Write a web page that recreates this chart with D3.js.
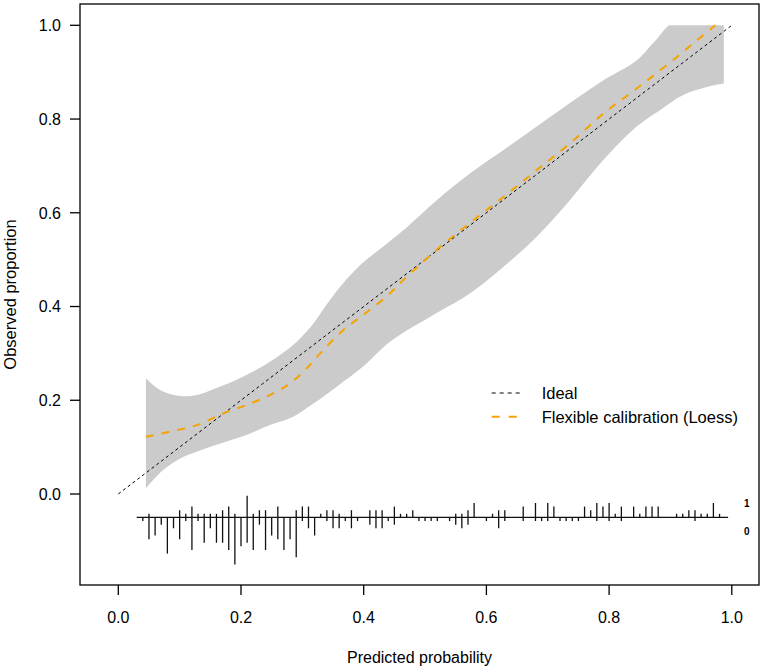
<!DOCTYPE html>
<meta charset="utf-8">
<script src="https://d3js.org/d3.v7.min.js"></script>
<style>
	body { margin: 0; background: #fff; }
	text { font-family: "Liberation Sans", Arial, Helvetica, sans-serif; fill: #000; }
</style>
<svg id="vis"></svg>
<script>
	// ticks
	const xTicks = [0, 0.2, 0.4, 0.6, 0.8, 1.0];
	const yTicks = [0, 0.2, 0.4, 0.6, 0.8, 1.0];

	// ideal diagonal
	const ideal = [[0, 0], [1, 1]];

	// confidence band
	const bandUpper = [
		[0.045, 0.247], [0.068, 0.222], [0.101, 0.209], [0.128, 0.211], [0.160, 0.226],
		[0.198, 0.247], [0.236, 0.273], [0.264, 0.297], [0.291, 0.325], [0.318, 0.364],
		[0.345, 0.414], [0.372, 0.458], [0.399, 0.494], [0.432, 0.528], [0.465, 0.563],
		[0.519, 0.627], [0.573, 0.684], [0.628, 0.734], [0.682, 0.784], [0.736, 0.834],
		[0.791, 0.883], [0.845, 0.925], [0.872, 0.962], [0.909, 1.01], [0.987, 1.01]
	];
	const bandLower = [
		[0.045, 0.012], [0.073, 0.051], [0.101, 0.076], [0.128, 0.090], [0.160, 0.105],
		[0.209, 0.126], [0.247, 0.147], [0.285, 0.165], [0.318, 0.193], [0.356, 0.229],
		[0.399, 0.272], [0.443, 0.325], [0.519, 0.386], [0.573, 0.428], [0.628, 0.485],
		[0.682, 0.549], [0.736, 0.627], [0.791, 0.713], [0.845, 0.784], [0.883, 0.819],
		[0.920, 0.851], [0.964, 0.870], [0.987, 0.876]
	];

	// loess curve
	const loess = [
		[0.045, 0.122], [0.084, 0.133], [0.128, 0.147], [0.171, 0.172], [0.209, 0.190],
		[0.247, 0.211], [0.280, 0.236], [0.307, 0.268], [0.334, 0.307], [0.367, 0.350],
		[0.399, 0.382], [0.437, 0.421], [0.465, 0.457], [0.519, 0.521], [0.573, 0.578],
		[0.628, 0.634], [0.682, 0.691], [0.736, 0.748], [0.791, 0.812], [0.845, 0.865],
		[0.910, 0.932], [0.945, 0.970], [0.973, 1.0]
	];

	// spike histogram: predicted prob bins, counts with outcome 1 (up) and 0 (down)
	const spikeP = [0.04, 0.05, 0.06, 0.07, 0.08, 0.09, 0.10, 0.11, 0.12, 0.13, 0.14, 0.15, 0.16, 0.17, 0.18, 0.19,
		0.20, 0.21, 0.22, 0.23, 0.24, 0.25, 0.26, 0.27, 0.28, 0.29, 0.30, 0.31, 0.32, 0.33, 0.34, 0.35, 0.36, 0.37,
		0.38, 0.39, 0.41, 0.42, 0.43, 0.44, 0.45, 0.46, 0.47, 0.48, 0.49, 0.50, 0.51, 0.52, 0.54, 0.55, 0.56, 0.57,
		0.58, 0.60, 0.61, 0.62, 0.63, 0.66, 0.68, 0.69, 0.70, 0.71, 0.72, 0.73, 0.74, 0.75, 0.76, 0.77, 0.78, 0.79,
		0.80, 0.81, 0.82, 0.84, 0.85, 0.86, 0.87, 0.88, 0.91, 0.92, 0.93, 0.94, 0.95, 0.96, 0.97, 0.98];
	const spikeOnes = [0, 1, 0, 0, 0, 0, 2, 1, 3, 1, 1, 1, 1, 2, 3, 1,
		0, 6, 1, 2, 2, 0, 3, 0, 0, 2, 3, 3, 0, 1, 2, 2, 1, 0,
		2, 0, 2, 2, 2, 0, 3, 1, 1, 2, 0, 0, 0, 0, 0, 1, 1, 2,
		4, 0, 1, 2, 2, 3, 4, 0, 4, 3, 0, 0, 0, 0, 3, 2, 4, 3,
		4, 1, 3, 3, 1, 3, 3, 3, 1, 1, 2, 2, 1, 1, 4, 1];
	const spikeZeros = [1, 6, 5, 2, 10, 3, 6, 1, 9, 1, 7, 3, 7, 7, 9, 13,
		8, 7, 9, 2, 9, 5, 6, 9, 6, 11, 1, 3, 5, 0, 1, 3, 3, 1,
		3, 1, 2, 3, 3, 1, 2, 0, 0, 0, 1, 1, 1, 1, 1, 2, 3, 2,
		0, 1, 0, 3, 1, 1, 1, 1, 1, 0, 1, 1, 1, 1, 0, 0, 1, 0,
		1, 0, 1, 0, 0, 0, 0, 0, 0, 0, 0, 1, 0, 0, 0, 0];
	const spikeBase = -0.05;
	const spikeRange = [0.03, 0.994];

	const legendLabels = ["Ideal", "Flexible calibration (Loess)"];

	const W = 765, H = 670;
	const box = { left: 80, right: 759, top: 4, bottom: 585 };

	const svg = d3.select('#vis').attr('width', W).attr('height', H);

	const x = d3.scaleLinear().domain([0, 1]).range([118.3, 731.8]);
	const y = d3.scaleLinear().domain([0, 1]).range([494, 25.3]);
	const spikeLen = d3.scaleLinear().domain([0, 13]).range([0, 47]);

	const line = d3.line().x(d => x(d[0])).y(d => y(d[1]));
	const curve = d3.line().x(d => x(d[0])).y(d => y(d[1])).curve(d3.curveCatmullRom);

	// band is cut off at an observed proportion of 1
	svg.append('clipPath').attr('id', 'clipTop')
		.append('rect')
		.attr('x', box.left).attr('y', y(1))
		.attr('width', box.right - box.left).attr('height', box.bottom - y(1));

	// band polygon: smooth upper edge, then smooth lower edge reversed
	const bandPath = curve(bandUpper) + 'L' + curve(bandLower.slice().reverse()).slice(1) + 'Z';
	svg.append('path')
		.attr('d', bandPath)
		.attr('clip-path', 'url(#clipTop)')
		.attr('fill', '#cbcbcb')
		.attr('stroke', 'none');

	// ideal line
	svg.append('path')
		.attr('d', line(ideal))
		.attr('fill', 'none')
		.attr('stroke', '#000')
		.attr('stroke-width', 1)
		.attr('stroke-dasharray', '3,3');

	// loess line
	svg.append('path')
		.attr('d', curve(loess))
		.attr('fill', 'none')
		.attr('stroke', '#f5a300')
		.attr('stroke-width', 2)
		.attr('stroke-dasharray', '8,8');

	// spike histogram
	const base = y(spikeBase);
	svg.append('line')
		.attr('x1', x(spikeRange[0])).attr('x2', x(spikeRange[1]))
		.attr('y1', base).attr('y2', base)
		.attr('stroke', '#111').attr('stroke-width', 1.2);

	svg.selectAll('line.up')
		.data(spikeP.map((p, i) => [p, spikeOnes[i]]).filter(d => d[1] > 0))
		.enter().append('line')
		.attr('class', 'up')
		.attr('x1', d => x(d[0])).attr('x2', d => x(d[0]))
		.attr('y1', base).attr('y2', d => base - spikeLen(d[1]))
		.attr('stroke', '#111').attr('stroke-width', 1.3);

	svg.selectAll('line.down')
		.data(spikeP.map((p, i) => [p, spikeZeros[i]]).filter(d => d[1] > 0))
		.enter().append('line')
		.attr('class', 'down')
		.attr('x1', d => x(d[0])).attr('x2', d => x(d[0]))
		.attr('y1', base).attr('y2', d => base + spikeLen(d[1]))
		.attr('stroke', '#111').attr('stroke-width', 1.3);

	svg.append('text').attr('x', 746.7).attr('y', base - 10).text('1')
		.attr('font-size', 10).attr('font-weight', 'bold').attr('text-anchor', 'middle');
	svg.append('text').attr('x', 746.7).attr('y', base + 17.5).text('0')
		.attr('font-size', 10).attr('font-weight', 'bold').attr('text-anchor', 'middle');

	// box
	svg.append('rect')
		.attr('x', box.left).attr('y', box.top)
		.attr('width', box.right - box.left).attr('height', box.bottom - box.top)
		.attr('fill', 'none').attr('stroke', '#000').attr('stroke-width', 1.3);

	// x axis
	const xAxis = svg.append('g');
	xAxis.selectAll('line').data(xTicks).enter().append('line')
		.attr('x1', d => x(d)).attr('x2', d => x(d))
		.attr('y1', box.bottom).attr('y2', box.bottom + 10)
		.attr('stroke', '#000').attr('stroke-width', 1.3);
	xAxis.selectAll('text').data(xTicks).enter().append('text')
		.attr('x', d => x(d)).attr('y', 622.7)
		.attr('text-anchor', 'middle').attr('font-size', 16)
		.text(d => d3.format('.1f')(d));

	// y axis
	const yAxis = svg.append('g');
	yAxis.selectAll('line').data(yTicks).enter().append('line')
		.attr('x1', box.left - 10).attr('x2', box.left)
		.attr('y1', d => y(d)).attr('y2', d => y(d))
		.attr('stroke', '#000').attr('stroke-width', 1.3);
	yAxis.selectAll('text').data(yTicks).enter().append('text')
		.attr('x', 61).attr('y', d => y(d)).attr('dy', '0.36em')
		.attr('text-anchor', 'end').attr('font-size', 16)
		.text(d => d3.format('.1f')(d));

	// axis titles
	svg.append('text')
		.attr('x', (box.left + box.right) / 2).attr('y', 663)
		.attr('text-anchor', 'middle').attr('font-size', 16)
		.text('Predicted probability');
	svg.append('text')
		.attr('transform', `translate(16, ${(box.top + box.bottom) / 2}) rotate(-90)`)
		.attr('text-anchor', 'middle').attr('font-size', 16.5)
		.text('Observed proportion');

	// legend
	const legend = svg.append('g');
	const legendY = [393, 416.7];
	legend.append('line')
		.attr('x1', 491.7).attr('x2', 521.7).attr('y1', legendY[0]).attr('y2', legendY[0])
		.attr('stroke', '#000').attr('stroke-width', 1).attr('stroke-dasharray', '4,4');
	legend.append('line')
		.attr('x1', 491.7).attr('x2', 521.7).attr('y1', legendY[1]).attr('y2', legendY[1])
		.attr('stroke', '#f5a300').attr('stroke-width', 2).attr('stroke-dasharray', '8,9');
	legend.selectAll('text').data(legendLabels).enter().append('text')
		.attr('x', 541.7).attr('y', (d, i) => legendY[i]).attr('dy', '0.36em')
		.attr('font-size', 16.5)
		.text(d => d);
</script>
